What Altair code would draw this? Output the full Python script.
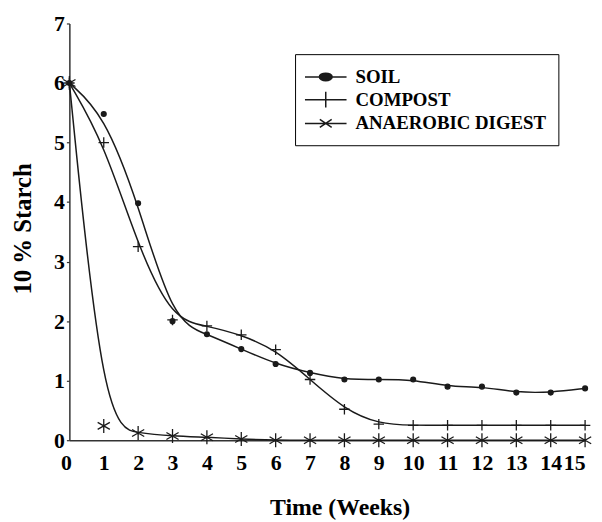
import altair as alt
import pandas as pd

weeks = list(range(16))
soil = [6.0, 5.48, 3.98, 2.0, 1.78, 1.53, 1.28, 1.13, 1.02, 1.02, 1.02, 0.9, 0.9, 0.8, 0.8, 0.87]
compost = [6.0, 5.0, 3.25, 2.02, 1.92, 1.77, 1.52, 1.02, 0.52, 0.27, 0.25, 0.25, 0.25, 0.25, 0.25, 0.25]
anaerobic = [6.0, 0.24, 0.12, 0.07, 0.05, 0.02, 0.0, 0.0, 0.0, 0.0, 0.0, 0.0, 0.0, 0.0, 0.0, 0.0]
series_names = ["SOIL", "COMPOST", "ANAEROBIC DIGEST"]
x_ticks = list(range(16))
y_ticks = list(range(8))

rows = []
for name, vals in zip(series_names, [soil, compost, anaerobic]):
    for w, v in zip(weeks, vals):
        rows.append({"week": w, "value": v, "series": name})
df = pd.DataFrame(rows)

FONT = "Liberation Serif"
INK = "#1a1a1a"

marker_shapes = [
    "circle",
    "M-1,0L1,0M0,-1L0,1",
    "M0,-1L0,1M-0.87,-0.5L0.87,0.5M-0.87,0.5L0.87,-0.5",
]
marker_sizes = [24, 200, 170]


def ellipse(rx, ry):
    return f"M{rx},0A{rx},{ry} 0 1,1 {-rx},0A{rx},{ry} 0 1,1 {rx},0"


legend_shapes = [
    "M-2.1,0L2.1,0" + ellipse(0.65, 0.38) + ellipse(0.5, 0.27) + ellipse(0.35, 0.17) + ellipse(0.2, 0.08),
    "M-2.1,0L2.1,0M0,-0.8L0,0.8",
    "M-2.1,0L2.1,0M-0.6,-0.4L0.6,0.4M-0.6,0.4L0.6,-0.4",
]

x_enc = alt.X(
    "week:Q",
    scale=alt.Scale(domain=[0, 15], nice=False),
    axis=alt.Axis(
        values=x_ticks, title="Time (Weeks)", ticks=False, labelPadding=13,
        labelOffset={"condition": {"test": "datum.value == 0", "value": -9}, "value": 0},
        titleX=273, titleY=68, titleBaseline="middle", titleAlign="center",
        titleFontSize=24, grid=False,
    ),
)
y_enc = alt.Y(
    "value:Q",
    scale=alt.Scale(domain=[0, 7], nice=False),
    axis=alt.Axis(
        values=y_ticks, title="10 % Starch", tickSize=3, labelPadding=2,
        titleX=-47, titleY=207, titleBaseline="middle", titleAlign="center",
        titleFontSize=25, grid=False,
    ),
)

base = alt.Chart(df)

lines = base.mark_line(interpolate="basis", color=INK, strokeWidth=1.5).encode(
    x=x_enc, y=y_enc, detail="series:N"
)

points = base.mark_point(filled=True, fill=INK, stroke=INK, strokeWidth=1.3, opacity=1).encode(
    x=x_enc,
    y=y_enc,
    shape=alt.Shape("series:N", scale=alt.Scale(domain=series_names, range=marker_shapes), legend=None),
    size=alt.Size("series:N", scale=alt.Scale(domain=series_names, range=marker_sizes), legend=None),
)

legend_layer = base.transform_filter("datum.week < 0").mark_point(
    filled=False, color=INK, strokeWidth=1.5, opacity=1
).encode(
    shape=alt.Shape(
        "series:N",
        scale=alt.Scale(domain=series_names, range=legend_shapes),
        legend=alt.Legend(
            title=None, orient="none", legendX=228, legendY=31, direction="vertical",
            padding=12, rowPadding=2, symbolSize=400, symbolOffset=8, labelOffset=19,
            strokeColor="black", fillColor="white",
            symbolStrokeColor=INK, symbolStrokeWidth=1.5, symbolOpacity=1,
            labelFont=FONT, labelFontWeight="bold", labelFontSize=19, labelColor="black",
            labelLimit=0,
        ),
    )
)

chart = (
    alt.layer(lines, points, legend_layer)
    .resolve_scale(shape="independent")
    .properties(width=521, height=421, padding={"left": 3, "top": 2, "right": 0, "bottom": 0})
    .configure_view(stroke=None)
    .configure_axis(
        domainColor="#333", domainWidth=1.5, tickColor="#333", tickWidth=1.2,
        labelFont=FONT, labelFontWeight="bold", labelFontSize=22, labelColor="black",
        titleFont=FONT, titleFontWeight="bold", titleColor="black",
    )
)

chart.save("out.html", embed_options={"renderer": "svg", "actions": False})
